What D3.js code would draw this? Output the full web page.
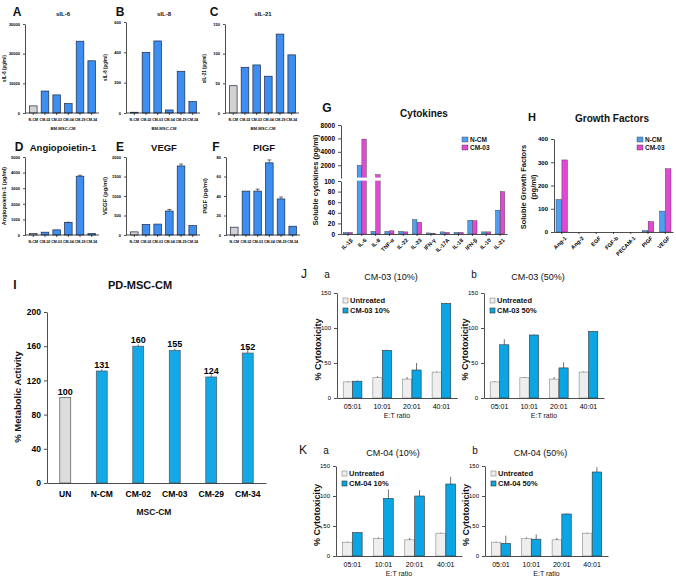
<!DOCTYPE html>
<html>
<head>
<meta charset="utf-8">
<script src="https://cdn.jsdelivr.net/npm/d3@7"></script>
<style>
body { margin:0; background:#fff; }
svg { font-family: 'Liberation Sans', Arial, sans-serif; }
.ax path, .ax line { stroke:#222; stroke-width:0.8; }
</style>
</head>
<body>
<script>
// --- data ---
var smallCats = ["N-CM", "CM-02", "CM-03", "CM-04", "CM-29", "CM-34"];
var il6Vals  = [2400, 7400, 6100, 3200, 24200, 17600];
var il8Vals  = [5, 400, 475, 20, 275, 75];
var il21Vals = [46, 77, 81, 62, 133, 98];
var angVals  = [100, 180, 330, 800, 3770, 90];
var angErr   = [0, 0, 0, 20, 60, 0];
var vegfVals = [80, 270, 280, 615, 1770, 240];
var vegfErr  = [0, 0, 0, 40, 50, 0];
var pigfVals = [8, 45, 45, 74, 37, 9];
var pigfErr  = [0, 0, 2, 3, 2, 0];

var cytoCats = ["IL-1β", "IL-6", "IL-8", "TNF-α", "IL-22", "IL-23", "IFN-γ", "IL-17A", "IL-18", "IFN-β", "IL-10", "IL-21"];
var cytoNcm  = [3, 2000, 5, 5, 5, 27, 2, 4, 3, 26, 4, 45];
var cytoCm03 = [3, 5900, 600, 6, 4, 22, 1.5, 3, 3, 25, 4, 80];

var gfCats = ["Ang-1", "Ang-2", "EGF", "FGF-b", "PECAM-1", "PIGF", "VEGF"];
var gfNcm  = [140, 0, 0, 0, 0, 6, 90];
var gfCm03 = [310, 0, 0, 0, 0, 45, 272];

var miCats = ["UN", "N-CM", "CM-02", "CM-03", "CM-29", "CM-34"];
var miVals = [100, 131, 160, 155, 124, 152];
var miErr  = [0, 2, 2, 2, 3, 7];

var etCats = ["05:01", "10:01", "20:01", "40:01"];
var jaUnt = [23, 29, 27, 37], jaUntErr = [1, 2, 3, 1];
var jaCm  = [24, 68, 40, 135], jaCmErr = [1, 1, 10, 1];
var jbUnt = [23, 29, 27, 37], jbUntErr = [1, 1, 3, 1];
var jbCm  = [76, 90, 43, 95], jbCmErr = [8, 1, 8, 1];
var kaUnt = [23, 29, 27, 38], kaUntErr = [1, 2, 3, 1];
var kaCm  = [39, 96, 100, 120], kaCmErr = [1, 15, 10, 12];
var kbUnt = [23, 29, 27, 38], kbUntErr = [1, 2, 3, 1];
var kbCm  = [21, 28, 70, 140], kbCmErr = [13, 8, 1, 8];

var narrow = "'Liberation Sans Narrow', 'Liberation Sans', sans-serif";
var fmt = d3.format("d");
var svg = d3.select("body").append("svg").attr("width", 676).attr("height", 581);

function txt(x, y, s, size, opt) {
	opt = opt || {};
	var t = svg.append("text").attr("x", x).attr("y", y).text(s)
		.style("font-size", size + "px")
		.style("font-weight", opt.normal ? "normal" : "bold")
		.attr("text-anchor", opt.anchor || "middle")
		.attr("fill", "#111");
	if (opt.rot) t.attr("transform", "rotate(-90," + x + "," + y + ")");
	if (opt.family) t.style("font-family", opt.family);
	return t;
}

function errBars(g, ys, vals, errs, cx, cap) {
	vals.forEach(function(v, i) {
		if (!errs[i]) return;
		var x = cx(i);
		g.append("line").attr("x1", x).attr("x2", x).attr("y1", ys(v + errs[i])).attr("y2", ys(v)).attr("stroke", "#333").attr("stroke-width", 0.7);
		g.append("line").attr("x1", x - cap).attr("x2", x + cap).attr("y1", ys(v + errs[i])).attr("y2", ys(v + errs[i])).attr("stroke", "#333").attr("stroke-width", 0.7);
	});
}

// A-F small bar panels
function smallPanel(o) {
	var g = svg.append("g");
	var x = d3.scaleBand().domain(smallCats).range([o.ax + 1, o.ax + 74]).paddingInner(0.35).paddingOuter(0.3);
	var y = d3.scaleLinear().domain([0, o.max]).range([o.y0, o.y1]);

	g.selectAll("rect").data(o.vals).enter().append("rect")
		.attr("x", function(d, i) { return x(smallCats[i]); })
		.attr("width", x.bandwidth())
		.attr("y", function(d) { return y(d); })
		.attr("height", function(d) { return o.y0 - y(d); })
		.attr("fill", function(d, i) { return i == 0 ? "#d2d2d2" : "#3d8ef0"; })
		.attr("stroke", "#1d2a45").attr("stroke-width", 0.7);
	if (o.err) errBars(g, y, o.vals, o.err, function(i) { return x(smallCats[i]) + x.bandwidth() / 2; }, 2);

	g.append("g").attr("class", "ax").attr("transform", "translate(" + o.ax + ",0)")
		.call(d3.axisLeft(y).tickValues(o.ticks).tickFormat(fmt).tickSize(2).tickSizeOuter(0))
		.selectAll("text").style("font-size", "4px").style("font-weight", "bold");
	var xa = g.append("g").attr("class", "ax").attr("transform", "translate(0," + o.y0 + ")")
		.call(d3.axisBottom(x).tickSize(2).tickSizeOuter(0));
	xa.select(".domain").attr("d", "M" + o.ax + ",0H" + (o.ax + 74));
	xa.selectAll("text").style("font-size", "3.6px").style("font-weight", "bold").style("font-family", narrow);

	txt(o.ax - 19, (o.y0 + o.y1) / 2, o.ylab, o.ylabSize, { rot: true });
	txt(o.lx, o.ty, o.letter, 12, {});
	txt(o.ax + 38, o.ty, o.title, o.titleSize, {});
	if (o.xtitle) txt(o.ax + 38, o.y0 + 17, o.xtitle, 4.2, {});
}

smallPanel({ ax: 25, y0: 113, y1: 24, max: 30000, ticks: [0, 10000, 20000, 30000], vals: il6Vals,
	letter: "A", lx: 17, ty: 16, title: "sIL-6", titleSize: 6, ylab: "sIL-6 (pg/ml)", ylabSize: 4.5, xtitle: "BM-MSC-CM" });
smallPanel({ ax: 126, y0: 113, y1: 22, max: 600, ticks: [0, 200, 400, 600], vals: il8Vals,
	letter: "B", lx: 120, ty: 16, title: "sIL-8", titleSize: 6, ylab: "sIL-8 (pg/ml)", ylabSize: 4.5, xtitle: "BM-MSC-CM" });
smallPanel({ ax: 225, y0: 113, y1: 24, max: 150, ticks: [0, 50, 100, 150], vals: il21Vals,
	letter: "C", lx: 214, ty: 16, title: "sIL-21", titleSize: 6, ylab: "sIL-21 (pg/ml)", ylabSize: 4.5, xtitle: "BM-MSC-CM" });
smallPanel({ ax: 25, y0: 235, y1: 157, max: 5000, ticks: [0, 1000, 2000, 3000, 4000, 5000], vals: angVals, err: angErr,
	letter: "D", lx: 19, ty: 151, title: "Angiopoietin-1", titleSize: 9.5, ylab: "Angiopoietin-1 (pg/ml)", ylabSize: 5.5 });
smallPanel({ ax: 126, y0: 235, y1: 157, max: 2000, ticks: [0, 500, 1000, 1500, 2000], vals: vegfVals, err: vegfErr,
	letter: "E", lx: 120, ty: 151, title: "VEGF", titleSize: 9.5, ylab: "VEGF (pg/ml)", ylabSize: 6 });
smallPanel({ ax: 226, y0: 235, y1: 157, max: 80, ticks: [0, 20, 40, 60, 80], vals: pigfVals, err: pigfErr,
	letter: "F", lx: 216, ty: 151, title: "PIGF", titleSize: 9.5, ylab: "PIGF (pg/ml)", ylabSize: 6 });

// G - cytokines with broken axis
(function() {
	var g = svg.append("g");
	var ax = 341, axEnd = 507;
	var x = d3.scaleBand().domain(cytoCats).range([ax, axEnd]).paddingInner(0.3).paddingOuter(0.15);
	var sub = d3.scaleBand().domain([0, 1]).range([0, x.bandwidth()]).padding(0.05);
	var yLow = d3.scaleLinear().domain([0, 100]).range([234, 181]);
	var yUp = d3.scaleLinear().domain([100, 8000]).range([178, 125]);
	function gy(v) { return v <= 100 ? yLow(v) : yUp(v); }
	var cols = ["#4f9ef0", "#e04ad2"];
	[cytoNcm, cytoCm03].forEach(function(arr, s) {
		g.selectAll(".b" + s).data(arr).enter().append("rect")
			.attr("x", function(d, i) { return x(cytoCats[i]) + sub(s); })
			.attr("width", sub.bandwidth())
			.attr("y", function(d) { return gy(d); })
			.attr("height", function(d) { return 234 - gy(d); })
			.attr("fill", cols[s]).attr("stroke", "#333").attr("stroke-width", 0.4);
	});
	g.append("rect").attr("x", ax - 1).attr("y", 177.6).attr("width", axEnd - ax + 2).attr("height", 3).attr("fill", "#fff");
	g.append("g").attr("class", "ax").attr("transform", "translate(" + ax + ",0)")
		.call(d3.axisLeft(yLow).tickValues([0, 20, 40, 60, 80, 100]).tickSize(3).tickSizeOuter(0))
		.selectAll("text").style("font-size", "6.5px").style("font-weight", "bold");
	g.append("g").attr("class", "ax").attr("transform", "translate(" + ax + ",0)")
		.call(d3.axisLeft(yUp).tickValues([2000, 4000, 6000, 8000]).tickFormat(fmt).tickSize(3).tickSizeOuter(0))
		.selectAll("text").style("font-size", "6.5px").style("font-weight", "bold");
	var xa = g.append("g").attr("class", "ax").attr("transform", "translate(0,234)")
		.call(d3.axisBottom(x).tickSize(2).tickSizeOuter(0));
	xa.selectAll("text").style("font-size", "5.5px").style("font-weight", "bold")
		.attr("text-anchor", "end").attr("dx", "-0.2em").attr("dy", "0.6em").attr("transform", "rotate(-45)");
	txt(318, 180, "Soluble cytokines (pg/ml)", 7.5, { rot: true });
	txt(327, 112, "G", 12, {});
	txt(424, 117, "Cytokines", 10, {});
	// legend
	["N-CM", "CM-03"].forEach(function(n, i) {
		g.append("rect").attr("x", 462).attr("y", 137 + i * 8).attr("width", 6).attr("height", 5).attr("fill", cols[i]).attr("stroke", "#333").attr("stroke-width", 0.4);
		txt(470, 142 + i * 8, n, 6.5, { anchor: "start" });
	});
})();

// H - growth factors
(function() {
	var g = svg.append("g");
	var ax = 554, axEnd = 673;
	var x = d3.scaleBand().domain(gfCats).range([ax, axEnd]).paddingInner(0.3).paddingOuter(0.1);
	var sub = d3.scaleBand().domain([0, 1]).range([0, x.bandwidth()]).padding(0.05);
	var y = d3.scaleLinear().domain([0, 400]).range([232, 139]);
	var cols = ["#4f9ef0", "#e04ad2"];
	[gfNcm, gfCm03].forEach(function(arr, s) {
		g.selectAll(".b" + s).data(arr).enter().append("rect")
			.attr("x", function(d, i) { return x(gfCats[i]) + sub(s); })
			.attr("width", sub.bandwidth())
			.attr("y", function(d) { return y(d); })
			.attr("height", function(d) { return 232 - y(d); })
			.attr("fill", cols[s]).attr("stroke", "#333").attr("stroke-width", function(d) { return d > 0 ? 0.4 : 0; });
	});
	g.append("g").attr("class", "ax").attr("transform", "translate(" + ax + ",0)")
		.call(d3.axisLeft(y).tickValues([0, 100, 200, 300, 400]).tickSize(3).tickSizeOuter(0))
		.selectAll("text").style("font-size", "6px").style("font-weight", "bold");
	var xa = g.append("g").attr("class", "ax").attr("transform", "translate(0,232)")
		.call(d3.axisBottom(x).tickSize(2).tickSizeOuter(0));
	xa.selectAll("text").style("font-size", "5.5px").style("font-weight", "bold")
		.attr("text-anchor", "end").attr("dx", "-0.2em").attr("dy", "0.6em").attr("transform", "rotate(-45)");
	txt(526, 187, "Soluble Growth  Factors", 7.5, { rot: true });
	txt(536, 187, "(pg/ml)", 7.5, { rot: true });
	txt(532, 121, "H", 11, {});
	txt(612, 122, "Growth Factors", 10, {});
	["N-CM", "CM-03"].forEach(function(n, i) {
		g.append("rect").attr("x", 637).attr("y", 137 + i * 8).attr("width", 6).attr("height", 5).attr("fill", cols[i]).attr("stroke", "#333").attr("stroke-width", 0.4);
		txt(645, 142 + i * 8, n, 6.5, { anchor: "start" });
	});
})();

// I - metabolic activity
(function() {
	var g = svg.append("g");
	var ax = 47, axEnd = 266, y0 = 483;
	var x = d3.scaleBand().domain(miCats).range([ax, axEnd]).paddingInner(0.7).paddingOuter(0.35);
	var y = d3.scaleLinear().domain([0, 200]).range([y0, 312]);
	g.selectAll("rect").data(miVals).enter().append("rect")
		.attr("x", function(d, i) { return x(miCats[i]); })
		.attr("width", x.bandwidth())
		.attr("y", function(d) { return y(d); })
		.attr("height", function(d) { return y0 - y(d); })
		.attr("fill", function(d, i) { return i == 0 ? "#dcdcdc" : "#13a9e8"; })
		.attr("stroke", "#555").attr("stroke-width", 0.7);
	errBars(g, y, miVals, miErr, function(i) { return x(miCats[i]) + x.bandwidth() / 2; }, 0);
	g.selectAll(".lab").data(miVals).enter().append("text")
		.attr("x", function(d, i) { return x(miCats[i]) + x.bandwidth() / 2; })
		.attr("y", function(d) { return y(d) - 3; })
		.attr("text-anchor", "middle").style("font-size", "9px").style("font-weight", "bold")
		.text(function(d) { return d; });
	g.append("g").attr("class", "ax").attr("transform", "translate(" + ax + ",0)")
		.call(d3.axisLeft(y).tickValues([0, 40, 80, 120, 160, 200]).tickSize(3).tickSizeOuter(0))
		.selectAll("text").style("font-size", "8.5px").style("font-weight", "bold");
	var xa = g.append("g").attr("class", "ax").attr("transform", "translate(0," + y0 + ")")
		.call(d3.axisBottom(x).tickSize(0).tickSizeOuter(0).tickPadding(8));
	xa.selectAll("text").style("font-size", "8.5px").style("font-weight", "bold");
	txt(21, 397, "% Metabolic Activity", 9.5, { rot: true });
	txt(140, 289, "PD-MSC-CM", 11, {});
	txt(15, 289, "I", 12, {});
	txt(154, 515, "MSC-CM", 8.5, {});
})();

// J / K cytotoxicity panels
function cytoPanel(o) {
	var g = svg.append("g");
	var x = d3.scaleBand().domain(etCats).range([o.ax, o.axEnd]).paddingInner(0.35).paddingOuter(0.2);
	var sub = d3.scaleBand().domain([0, 1]).range([0, x.bandwidth()]).padding(0.03);
	var y = d3.scaleLinear().domain([0, 150]).range([o.y0, o.y1]);
	var cols = ["#eeeeee", "#0aa5e2"];
	var strokes = ["#888", "#333"];
	[[o.unt, o.untErr], [o.cm, o.cmErr]].forEach(function(p, s) {
		g.selectAll(".b" + s).data(p[0]).enter().append("rect")
			.attr("x", function(d, i) { return x(etCats[i]) + sub(s); })
			.attr("width", sub.bandwidth())
			.attr("y", function(d) { return y(d); })
			.attr("height", function(d) { return o.y0 - y(d); })
			.attr("fill", cols[s]).attr("stroke", strokes[s]).attr("stroke-width", 0.6);
		errBars(g, y, p[0], p[1], function(i) { return x(etCats[i]) + sub(s) + sub.bandwidth() / 2; }, 0);
	});
	g.append("g").attr("class", "ax").attr("transform", "translate(" + o.ax + ",0)")
		.call(d3.axisLeft(y).tickValues([0, 50, 100, 150]).tickSize(3).tickSizeOuter(0))
		.selectAll("text").style("font-size", "6px");
	var xa = g.append("g").attr("class", "ax").attr("transform", "translate(0," + o.y0 + ")")
		.call(d3.axisBottom(x).tickSize(0).tickSizeOuter(0).tickPadding(6));
	xa.selectAll("text").style("font-size", "7px");
	var mid = (o.ax + o.axEnd) / 2;
	txt(mid, o.y0 + 20, "E:T ratio", 7, { normal: true });
	txt(o.ax - 16, (o.y0 + o.y1) / 2 + 4, "% Cytotoxicity", 9, { rot: true });
	txt(mid - 6, o.ty, o.title, 9, { normal: true, family: narrow });
	txt(o.ax - 10, o.ty - 2, o.sub, 10, { normal: true });
	if (o.letter) txt(o.ax - 33, o.ty - 2, o.letter, 12, { normal: true });
	["Untreated", o.legend].forEach(function(n, i) {
		g.append("rect").attr("x", o.ax + 6).attr("y", o.y1 + 5 + i * 10).attr("width", 5).attr("height", 5)
			.attr("fill", cols[i]).attr("stroke", strokes[i]).attr("stroke-width", 0.6);
		txt(o.ax + 13, o.y1 + 10 + i * 10, n, 7.5, { anchor: "start", family: narrow });
	});
}

cytoPanel({ ax: 337, axEnd: 457, y0: 398, y1: 293, ty: 280, unt: jaUnt, untErr: jaUntErr, cm: jaCm, cmErr: jaCmErr,
	title: "CM-03 (10%)", sub: "a", letter: "J", legend: "CM-03 10%" });
cytoPanel({ ax: 484, axEnd: 604, y0: 398, y1: 293, ty: 280, unt: jbUnt, untErr: jbUntErr, cm: jbCm, cmErr: jbCmErr,
	title: "CM-03 (50%)", sub: "b", legend: "CM-03 50%" });
cytoPanel({ ax: 336, axEnd: 462, y0: 556, y1: 466, ty: 456, unt: kaUnt, untErr: kaUntErr, cm: kaCm, cmErr: kaCmErr,
	title: "CM-04 (10%)", sub: "a", letter: "K", legend: "CM-04 10%" });
cytoPanel({ ax: 485, axEnd: 608, y0: 556, y1: 466, ty: 456, unt: kbUnt, untErr: kbUntErr, cm: kbCm, cmErr: kbCmErr,
	title: "CM-04 (50%)", sub: "b", legend: "CM-04 50%" });
</script>
</body>
</html>
